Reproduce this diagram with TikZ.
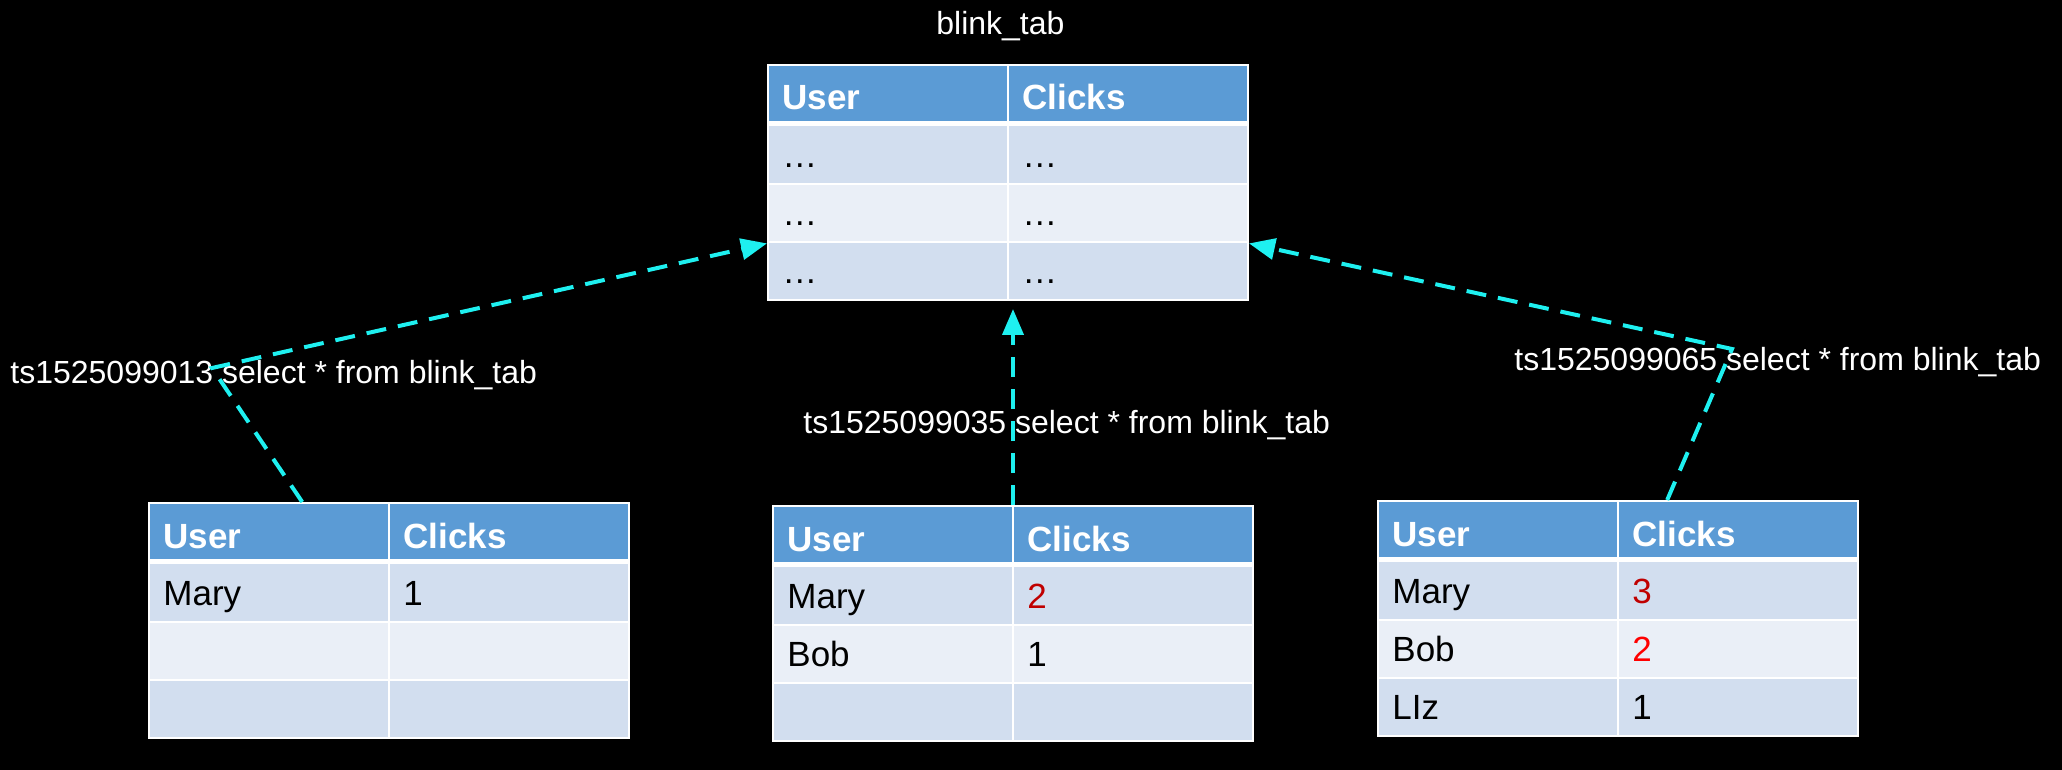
\documentclass[tikz,border=0pt]{standalone}
\usepackage{fontspec}
\setmainfont{Liberation Sans}
\usetikzlibrary{arrows.meta,calc}
\definecolor{hdr}{HTML}{5B9BD5}
\definecolor{rowA}{HTML}{D2DEEF}
\definecolor{rowB}{HTML}{EAEFF7}
\definecolor{cy}{RGB}{30,240,240}
\definecolor{dred}{HTML}{C00000}
\definecolor{bred}{HTML}{FF0000}
\tikzset{
 cell/.style={anchor=base west, inner sep=0pt, font=\fontsize{17.5}{20}\selectfont, text=black},
 hcell/.style={anchor=base west, inner sep=0pt, text=white, font=\fontsize{17.5}{20}\selectfont\bfseries},
 tblbox/.style={draw=white, line width=1pt, minimum width=240pt, minimum height=117.5pt, inner sep=0pt},
 conn/.style={draw=cy, line width=2pt, dash pattern=on 10pt off 6pt, -{Triangle[length=13pt,width=10.5pt,fill=cy]}},
 lbl/.style={anchor=base west, inner sep=0pt, text=white, font=\fontsize{16}{19}\selectfont},
}
\newcommand\mytable[9]{%
\begin{scope}[shift={(#2,#3)}]
\fill[hdr] (0,0) rectangle (480,56);
\fill[rowA] (0,56) rectangle (480,119);
\fill[rowB] (0,119) rectangle (480,177);
\fill[rowA] (0,177) rectangle (480,235);
\draw[white,line width=2.5pt] (0,58.5) -- (480,58.5);
\draw[white,line width=1pt] (0,119) -- (480,119) (0,177) -- (480,177) (240,0) -- (240,235);
\node[hcell] (#1-h1) at (14,45) {User};
\node[hcell] (#1-h2) at (254,45) {Clicks};
\node[cell] (#1-a1) at (14,102.5) {#4};
\node[cell] (#1-a2) at (254,102.5) {#5};
\node[cell] (#1-b1) at (14,160.5) {#6};
\node[cell] (#1-b2) at (254,160.5) {#7};
\node[cell] (#1-c1) at (14,218.5) {#8};
\node[cell] (#1-c2) at (254,218.5) {#9};
\node[tblbox] (#1) at (240,117.5) {};
\end{scope}}
\begin{document}
\begin{tikzpicture}[x=0.5pt,y=-0.5pt]
\fill[black] (0,0) rectangle (2062,770);
\useasboundingbox (0,0) rectangle (2062,770);
\node[lbl] (title) at (936,35) {blink\_tab};
\mytable{top}{768}{65}{…}{…}{…}{…}{…}{…}
\mytable{lft}{149}{503}{Mary}{1}{}{}{}{}
\mytable{mid}{773}{506}{Mary}{{\color{dred}2}}{Bob}{1}{}{}
\mytable{rgt}{1378}{501}{Mary}{{\color{dred}3}}{Bob}{{\color{bred}2}}{LIz}{1}
\node[lbl] (l1) at (10,383) {ts1525099013 select * from blink\_tab};
\node[lbl] (l2) at (803,433) {ts1525099035 select * from blink\_tab};
\node[lbl] (l3) at (1514,371) {ts1525099065 select * from blink\_tab};
\coordinate (b1) at (212,368);
\coordinate (b3) at (1732,349);
\draw[conn] ($(lft.north west)!0.32!(lft.north east)$) -- (b1) -- ($(top.north west)!0.757!(top.south west)$);
\draw[conn, shorten >=4pt] (mid.north) -- (mid.north |- top.south);
\draw[conn] ($(rgt.north west)!0.602!(rgt.north east)$) -- (b3) -- ($(top.north east)!0.757!(top.south east)$);
\end{tikzpicture}
\end{document}
